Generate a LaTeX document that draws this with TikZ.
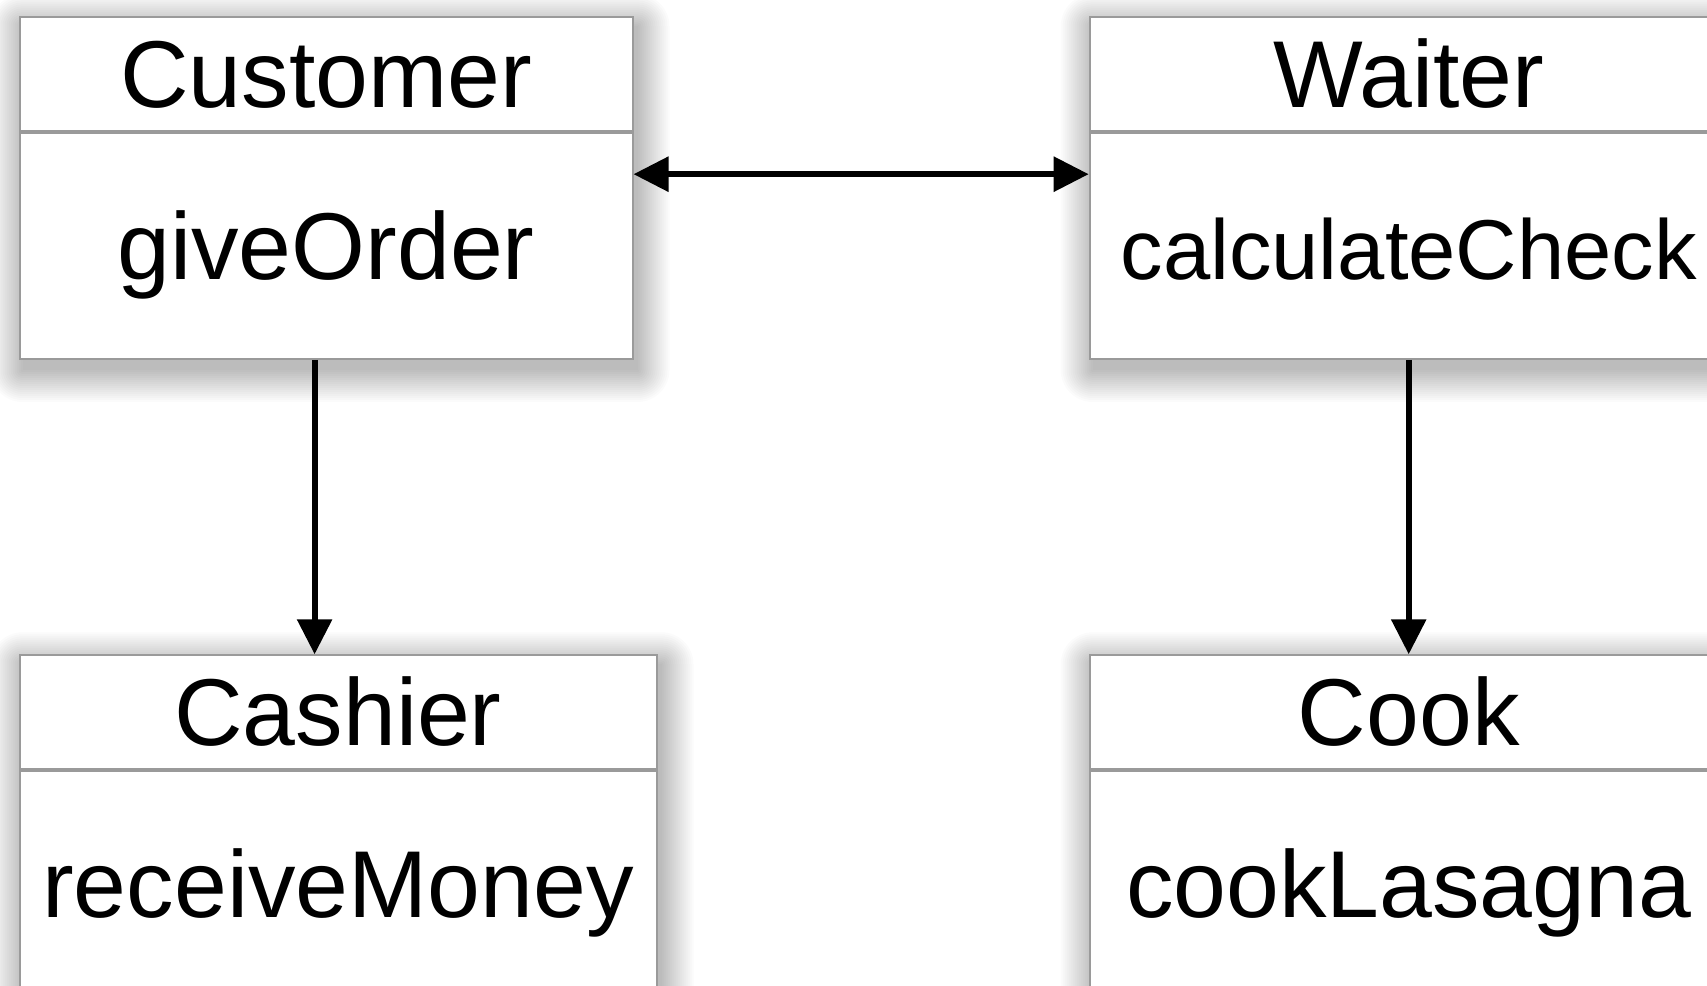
\documentclass[tikz,border=0pt]{standalone}
\usepackage{fontspec}
\setmainfont{Liberation Sans}
\usetikzlibrary{arrows.meta,calc,backgrounds}
\definecolor{boxline}{HTML}{9A9A9A}
\tikzset{
  cls/.style={draw=boxline, line width=2pt, fill=white, inner sep=0pt,
    text height=68pt, text depth=0pt,
    font=\fontsize{95}{100}\selectfont},
  hdr/.style={cls, minimum height=113.3pt, anchor=north west},
  bdy/.style={cls, minimum height=226.4pt, anchor=north},
  conn/.style={draw=black, line width=6pt, -{Triangle[length=35pt,width=34pt]}},
  dconn/.style={draw=black, line width=6pt, {Triangle[length=35pt,width=34pt]}-{Triangle[length=35pt,width=34pt]}},
  shadowlayer/.style={fill=black, opacity=0.017}
}
\newcommand\castshadow[2]{%
  \foreach \r in {0,2,...,32}{%
    \fill[shadowlayer, rounded corners=\r pt] ($(#1)+(4-\r,-10+\r)$) rectangle ($(#2)+(4+\r,-10-\r)$);
  }%
}
\begin{document}
\begin{tikzpicture}[x=1pt,y=1pt]
\useasboundingbox (0,0) rectangle (1707,985);
\clip (0,0) rectangle (1707,985);
% Customer
\node[hdr, minimum width=613pt] (cust) at (18.5,968.7) {Customer};
\node[bdy, minimum width=613pt] (custb) at (cust.south) {giveOrder};
% Waiter
\node[hdr, minimum width=638pt] (wait) at (1088.7,968.7) {Waiter};
\node[bdy, minimum width=638pt, font=\fontsize{85}{90}\selectfont] (waitb) at (wait.south) {calculateCheck};
% Cashier
\node[hdr, minimum width=637pt] (cash) at (18.5,330.7) {Cashier};
\node[bdy, minimum width=637pt] (cashb) at (cash.south) {receiveMoney};
% Cook
\node[hdr, minimum width=638pt] (cook) at (1088.7,330.7) {Cook};
\node[bdy, minimum width=638pt] (cookb) at (cook.south) {cookLasagna};
% background and shadows
\begin{scope}[on background layer]
  \fill[white] (-10,-10) rectangle (1717,995);
  \castshadow{cust.north west}{custb.south east}
  \castshadow{wait.north west}{waitb.south east}
  \castshadow{cash.north west}{cashb.south east}
  \castshadow{cook.north west}{cookb.south east}
\end{scope}
% connectors
\coordinate (ay) at (0,810.8);
\coordinate (ax) at (314.6,0);
\draw[dconn] (custb.east |- ay) -- (waitb.west |- ay);
\draw[conn] (custb.south -| ax) -- (cash.north -| ax);
\draw[conn] (waitb.south) -- (cook.north);
\end{tikzpicture}
\end{document}
